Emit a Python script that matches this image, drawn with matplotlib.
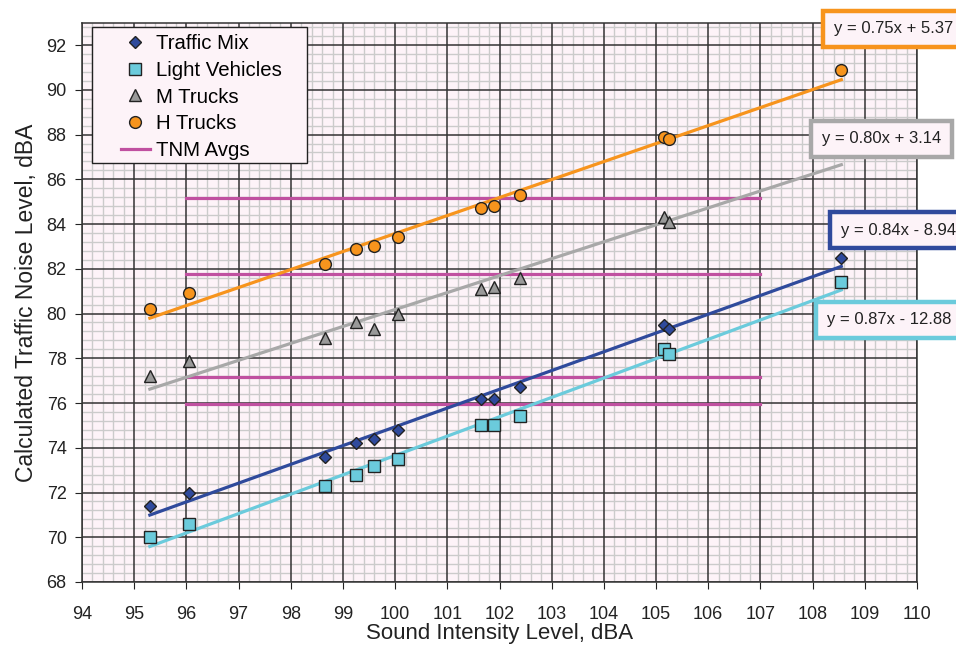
import matplotlib
matplotlib.use("Agg")
import matplotlib.pyplot as plt
from matplotlib.ticker import MultipleLocator
from matplotlib.patches import Rectangle
import numpy as np

plt.rcParams["font.family"] = ["Liberation Sans", "DejaVu Sans"]

# sound intensity level (x) for each measurement site
sil = [95.3, 96.05, 98.65, 99.25, 99.6, 100.05, 101.65, 101.9, 102.4, 105.15, 105.25, 108.55]

traffic_mix = [71.4, 72.0, 73.6, 74.2, 74.4, 74.8, 76.2, 76.2, 76.7, 79.5, 79.3, 82.5]
light_veh   = [70.0, 70.6, 72.3, 72.8, 73.2, 73.5, 75.0, 75.0, 75.4, 78.4, 78.2, 81.4]
m_trucks    = [77.2, 77.9, 78.9, 79.6, 79.3, 80.0, 81.1, 81.2, 81.6, 84.3, 84.1, 87.4]
h_trucks    = [80.2, 80.9, 82.2, 82.9, 83.0, 83.4, 84.7, 84.8, 85.3, 87.9, 87.8, 90.9]

tnm_avgs  = [85.15, 81.75, 77.15, 75.95]
tnm_range = [96, 107]

# trendline labels as printed on the chart (top to bottom)
eq_labels = ["y = 0.75x + 5.37", "y = 0.80x + 3.14", "y = 0.84x - 8.94", "y = 0.87x - 12.88"]

BG    = "#fdf3f8"
BLUE  = "#2f4a9c"
CYAN  = "#6bcbdc"
GRAY  = "#a8a8a8"
ORNG  = "#f7941d"
PINK  = "#c050a0"
TXT   = "#222222"

W, H = 956, 646
fig = plt.figure(figsize=(W / 100, H / 100), dpi=100)
ax = fig.add_axes([82 / W, 1 - 582 / H, 835 / W, 559.3 / H])
ax.set_facecolor(BG)

ax.set_xlim(94, 110)
ax.set_ylim(68, 93)
ax.xaxis.set_major_locator(MultipleLocator(1))
ax.xaxis.set_minor_locator(MultipleLocator(0.2))
ax.yaxis.set_major_locator(MultipleLocator(2))
ax.yaxis.set_minor_locator(MultipleLocator(0.4))
ax.grid(which="minor", color="#cbcbcb", linewidth=1.0)
ax.set_axisbelow(True)
# major grid drawn on top of the minor one
ax.vlines(ax.get_xticks(), 68, 93, color="#333333", lw=1.1, zorder=1)
ax.hlines(ax.get_yticks(), 94, 110, color="#333333", lw=1.1, zorder=1)
ax.set_xlim(94, 110)
ax.set_ylim(68, 93)
ax.tick_params(which="minor", length=0)
ax.tick_params(which="major", direction="out", length=5, labelsize=13, colors=TXT)
ax.tick_params(axis="x", pad=12)
ax.tick_params(axis="y", pad=6)
for sp in ax.spines.values():
    sp.set_color("#333333")
    sp.set_linewidth(1.1)

# TNM average lines
for i, yv in enumerate(tnm_avgs):
    ax.plot(tnm_range, [yv, yv], color=PINK, lw=2.3, zorder=2,
            label="TNM Avgs" if i == 0 else None)

series = [
    ("Traffic Mix", traffic_mix, "D", BLUE, BLUE, 6),
    ("Light Vehicles", light_veh, "s", CYAN, CYAN, 8.5),
    ("M Trucks", m_trucks, "^", "#999999", GRAY, 9),
    ("H Trucks", h_trucks, "o", ORNG, ORNG, 8.5),
]

x = np.array(sil)
for name, ys, mk, fc, lc, ms in series:
    k, b = np.polyfit(x, ys, 1)
    xx = np.array([x.min(), x.max()])
    ax.plot(xx, k * xx + b, color=lc, lw=2.3, zorder=3)
    ax.plot(x, ys, ls="none", marker=mk, ms=ms, mfc=fc, mec=TXT, mew=1.0,
            zorder=4, label=name)

# legend frame drawn separately (wide left margin as in the original)
ax.add_patch(Rectangle((92 / W, 1 - 163 / H), 215 / W, 136 / H, transform=fig.transFigure,
                       fc=BG, ec=TXT, lw=1.0, zorder=5, clip_on=False))
handles, labels = ax.get_legend_handles_labels()
order = [1, 2, 3, 4, 0]
leg = ax.legend([handles[i] for i in order], [labels[i] for i in order],
                loc="upper left", bbox_to_anchor=(121 / W, 1 - 34 / H),
                bbox_transform=fig.transFigure, fontsize=14.7,
                frameon=False, borderpad=0, labelspacing=0.38, handlelength=1.4,
                handletextpad=0.3, borderaxespad=0)
leg.set_zorder(6)

# trendline equation boxes (figure pixel positions: left text x, center y)
box_pos = [(834, 29, ORNG), (822, 139, GRAY), (841, 230, BLUE), (827, 320, CYAN)]
for (px, py, col), lab in zip(box_pos, eq_labels):
    fig.text(px / W, 1 - py / H, lab, ha="left", va="center", fontsize=12,
             color=TXT, zorder=10,
             bbox=dict(boxstyle="square,pad=0.65", fc=BG, ec=col, lw=3.2))

ax.set_xlabel("Sound Intensity Level, dBA", fontsize=16, color=TXT, labelpad=0)
ax.set_ylabel("Calculated Traffic Noise Level, dBA", fontsize=16.5, color=TXT, labelpad=6)

fig.savefig("out.png", dpi=100)
